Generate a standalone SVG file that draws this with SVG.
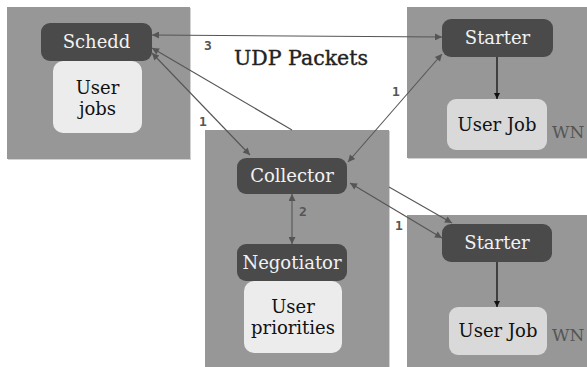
<svg xmlns="http://www.w3.org/2000/svg" width="587" height="367" viewBox="0 0 587 367">
<style>
.grp{fill:#979797}
.shadow{fill:#d2d2d2}
.node{fill:#4a4a4a}
.light{fill:#ececec}
.job{fill:#d9d9d9}
.nt{font-family:"DejaVu Serif",serif;font-size:18px;fill:#f2f2f2;text-anchor:middle}
.dt{font-family:"DejaVu Serif",serif;font-size:18px;fill:#111;text-anchor:middle}
.wn{font-family:"DejaVu Serif",serif;font-size:17px;fill:#555}
.lbl{font-family:"DejaVu Sans Mono",monospace;font-weight:bold;font-size:13px;fill:#555;text-anchor:middle}
.title{font-family:"DejaVu Serif",serif;font-size:20.5px;fill:#222;stroke:#222;stroke-width:0.4;text-anchor:middle}
.c{stroke:#555;stroke-width:1.1;fill:none}
.k{stroke:#111;stroke-width:1.3;fill:none}
</style>
<defs>
<marker id="ah" viewBox="0 0 10 10" refX="10" refY="5" markerWidth="9" markerHeight="7" markerUnits="userSpaceOnUse" orient="auto-start-reverse">
<path d="M0,0 L10,5 L0,10 z" fill="#555"/>
</marker>
<marker id="ahk" viewBox="0 0 10 10" refX="10" refY="5" markerWidth="8" markerHeight="6" markerUnits="userSpaceOnUse" orient="auto">
<path d="M0,0 L10,5 L0,10 z" fill="#111"/>
</marker>
</defs>

<g id="schedd-host">
<rect class="shadow" x="8" y="8" width="183" height="152"/>
<rect class="grp" x="7" y="7" width="183" height="152"/>
</g>
<g id="central-host">
<rect class="shadow" x="206" y="131" width="184" height="237"/>
<rect class="grp" x="205" y="130" width="184" height="237"/>
</g>
<g id="wn1-host">
<rect class="shadow" x="408" y="8" width="180" height="151"/>
<rect class="grp" x="407" y="7" width="180" height="151"/>
<text class="wn" x="552" y="138">WN</text>
</g>
<g id="wn2-host">
<rect class="shadow" x="408" y="216" width="180" height="152"/>
<rect class="grp" x="407" y="215" width="180" height="152"/>
<text class="wn" x="552" y="341">WN</text>
</g>

<text id="udp-title" class="title" x="301" y="65">UDP Packets</text>

<g id="connectors">
<line class="c" x1="152" y1="35" x2="442" y2="37" marker-start="url(#ah)" marker-end="url(#ah)"/>
<line class="c" x1="292" y1="130" x2="152" y2="48" marker-end="url(#ah)"/>
<line class="c" x1="152" y1="53" x2="250" y2="155" marker-start="url(#ah)" marker-end="url(#ah)"/>
<line class="c" x1="442" y1="54" x2="348" y2="162" marker-start="url(#ah)" marker-end="url(#ah)"/>
<line class="c" x1="350" y1="183" x2="442" y2="238" marker-start="url(#ah)" marker-end="url(#ah)"/>
<line class="c" x1="389" y1="187" x2="452" y2="223" marker-end="url(#ah)"/>
<line class="c" x1="292" y1="194" x2="292" y2="244" marker-start="url(#ah)" marker-end="url(#ah)"/>
<line class="k" x1="497" y1="57" x2="497" y2="99" marker-end="url(#ahk)"/>
<line class="k" x1="497" y1="262" x2="497" y2="307" marker-end="url(#ahk)"/>
<text class="lbl" x="208" y="50">3</text>
<text class="lbl" x="203" y="126">1</text>
<text class="lbl" x="396" y="96">1</text>
<text class="lbl" x="399" y="230">1</text>
<text class="lbl" x="303" y="216">2</text>
</g>

<g id="schedd">
<rect class="node" x="41" y="23" width="111" height="38" rx="9"/>
<text class="nt" x="96.5" y="48">Schedd</text>
</g>
<g id="user-jobs">
<rect class="light" x="53" y="61" width="89" height="72" rx="10"/>
<text class="dt" x="97.5" y="94">User</text>
<text class="dt" x="97.5" y="115">jobs</text>
</g>
<g id="collector">
<rect class="node" x="237" y="158" width="110" height="36" rx="9"/>
<text class="nt" x="292" y="182">Collector</text>
</g>
<g id="negotiator">
<rect class="node" x="237" y="244" width="110" height="37" rx="9"/>
<text class="nt" x="292" y="269">Negotiator</text>
</g>
<g id="user-priorities">
<rect class="light" x="244" y="281" width="98" height="72" rx="10"/>
<text class="dt" x="293" y="313">User</text>
<text class="dt" x="293" y="334">priorities</text>
</g>
<g id="starter1">
<rect class="node" x="442" y="19" width="111" height="38" rx="9"/>
<text class="nt" x="497.5" y="44">Starter</text>
</g>
<g id="userjob1">
<rect class="job" x="447" y="99" width="100" height="51" rx="9"/>
<text class="dt" x="497" y="131">User Job</text>
</g>
<g id="starter2">
<rect class="node" x="442" y="224" width="110" height="38" rx="9"/>
<text class="nt" x="497" y="249">Starter</text>
</g>
<g id="userjob2">
<rect class="job" x="449" y="307" width="98" height="48" rx="9"/>
<text class="dt" x="498" y="337">User Job</text>
</g>
</svg>
